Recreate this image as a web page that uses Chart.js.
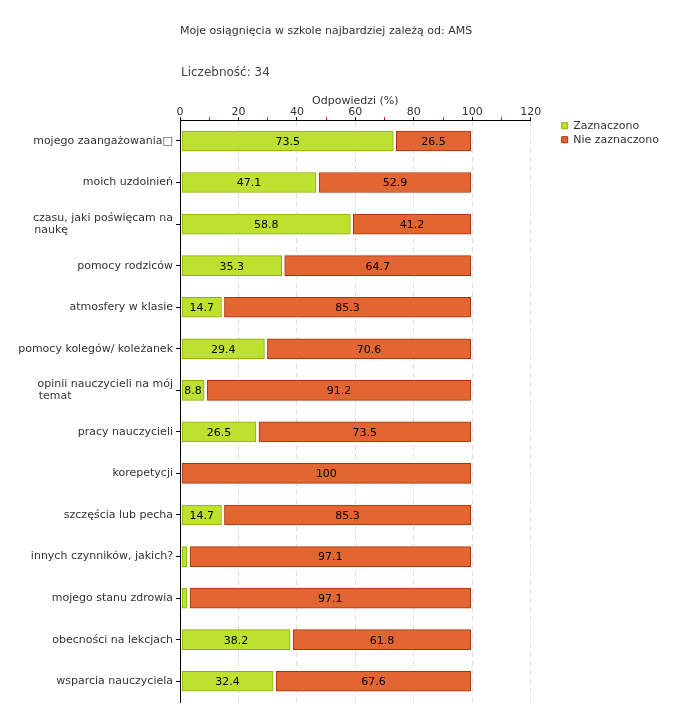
<!DOCTYPE html>
<html>
<head>
<meta charset="utf-8">
<script src="https://cdn.jsdelivr.net/npm/chart.js@4"></script>
<style>
  body { margin: 0; background: #fff; }
  #wrap { width: 680px; height: 720px; }
</style>
</head>
<body>
<div id="wrap"><canvas id="chart"></canvas></div>
<script>
const chartTitle = 'Moje osiągnięcia w szkole najbardziej zależą od: AMS';
const countLabel = 'Liczebność: 34';
const axisTitle = 'Odpowiedzi (%)';

const categories = [
  'mojego zaangażowania\u25A1',
  'moich uzdolnień',
  ['czasu, jaki poświęcam na', 'naukę'],
  'pomocy rodziców',
  'atmosfery w klasie',
  'pomocy kolegów/ koleżanek',
  ['opinii nauczycieli na mój', 'temat'],
  'pracy nauczycieli',
  'korepetycji',
  'szczęścia lub pecha',
  'innych czynników, jakich?',
  'mojego stanu zdrowia',
  'obecności na lekcjach',
  'wsparcia nauczyciela'
];
const zaznaczono    = [73.5, 47.1, 58.8, 35.3, 14.7, 29.4, 8.8, 26.5, 0, 14.7, 2.9, 2.9, 38.2, 32.4];
const nieZaznaczono = [26.5, 52.9, 41.2, 64.7, 85.3, 70.6, 91.2, 73.5, 100, 85.3, 97.1, 97.1, 61.8, 67.6];
const seriesNames = ['Zaznaczono', 'Nie zaznaczono'];

const FONT = 'DejaVu Sans';

// pad short lines of wrapped labels so they line up on the left
const measure = document.createElement('canvas').getContext('2d');
measure.font = '11px "' + FONT + '"';
function padLines(lbl) {
  if (!Array.isArray(lbl)) return lbl;
  const w = Math.max(...lbl.map(s => measure.measureText(s).width));
  return lbl.map(s => {
    let t = s;
    while (measure.measureText(t + ' ').width <= w) t += ' ';
    return t;
  });
}

const titles = {
  id: 'titles',
  afterLayout(chart) {
    // legend sits a bit right of the plot, level with its top
    const lg = chart.legend, area = chart.chartArea;
    const dx = area.right + 28 - lg.left, dy = area.top - 3 - lg.top;
    lg.left += dx; lg.right += dx; lg.top += dy; lg.bottom += dy;
  },
  afterDraw(chart) {
    const c = chart.ctx, left = chart.chartArea.left;
    c.save();
    c.textBaseline = 'middle';
    c.fillStyle = '#333';
    c.font = '11px "' + FONT + '"';
    c.fillText(chartTitle, left, 31);
    c.fillStyle = '#444';
    c.font = '12px "' + FONT + '"';
    c.fillText(countLabel, left + 1, 73);
    c.restore();
  }
};

// small white gap at both ends of every bar segment
const barGap = {
  id: 'barGap',
  beforeDatasetsDraw(chart) {
    chart.data.datasets.forEach((ds, i) => chart.getDatasetMeta(i).data.forEach(el => { el.base += 1.5; el.x -= 1.5; }));
  },
  afterDatasetsDraw(chart) {
    chart.data.datasets.forEach((ds, i) => chart.getDatasetMeta(i).data.forEach(el => { el.base -= 1.5; el.x += 1.5; }));
  }
};

const barLabels = {
  id: 'barLabels',
  afterDatasetsDraw(chart) {
    const c = chart.ctx;
    c.save();
    c.font = '11px "' + FONT + '"';
    c.fillStyle = '#000';
    c.textAlign = 'center';
    c.textBaseline = 'middle';
    chart.data.datasets.forEach((ds, i) => {
      chart.getDatasetMeta(i).data.forEach((el, j) => {
        const v = ds.data[j];
        if (v < 5) return;
        c.fillText(String(v), (el.x + el.base) / 2, el.y + 1);
      });
    });
    c.restore();
  }
};

new Chart(document.getElementById('chart'), {
  type: 'bar',
  data: {
    labels: categories,
    datasets: [{
      label: seriesNames[0],
      data: zaznaczono,
      backgroundColor: ctx => ctx.raw === 0 ? 'transparent' : 'rgb(190,224,46)',
      borderColor: ctx => ctx.raw === 0 ? 'transparent' : 'rgb(140,175,10)',
      borderWidth: 1,
      borderSkipped: false,
      barThickness: 20
    }, {
      label: seriesNames[1],
      data: nieZaznaczono,
      backgroundColor: 'rgb(226,101,50)',
      borderColor: 'rgb(170,50,10)',
      borderWidth: 1,
      borderSkipped: false,
      barThickness: 20
    }]
  },
  options: {
    indexAxis: 'y',
    responsive: true,
    maintainAspectRatio: false,
    animation: false,
    layout: { padding: { top: 96, right: 39, bottom: 18, left: 0 } },
    plugins: {
      tooltip: { enabled: false },
      legend: {
        position: 'right',
        align: 'start',
        labels: {
          boxWidth: 6, boxHeight: 6, padding: 3,
          color: '#333',
          font: { family: FONT, size: 11, lineHeight: 1 }
        }
      }
    },
    scales: {
      x: {
        position: 'top',
        stacked: true,
        min: 0, max: 120,
        ticks: {
          stepSize: 10,
          padding: -2,
          maxRotation: 0,
          autoSkip: false,
          color: '#333',
          font: { family: FONT, size: 11 },
          callback: v => v % 20 === 0 ? v : ''
        },
        grid: {
          tickLength: 3,
          color: ctx => (ctx.tick && ctx.tick.value % 20 === 0 && ctx.tick.value !== 0) ? '#ddd' : 'transparent',
          tickColor: ctx => (ctx.tick && ctx.tick.value % 20 === 0) ? '#000' : '#e00000'
        },
        border: { color: '#000', dash: [5, 4] },
        title: {
          display: true,
          text: axisTitle,
          color: '#333',
          font: { family: FONT, size: 11, lineHeight: 1 },
          padding: { top: 0, bottom: 1 }
        }
      },
      y: {
        stacked: true,
        afterFit(scale) { scale.width = 180; },
        ticks: {
          color: '#333',
          padding: 3,
          autoSkip: false,
          font: { family: FONT, size: 11, lineHeight: 1.1 },
          callback(value) { return padLines(categories[value]); }
        },
        grid: { drawOnChartArea: false, offset: false, tickLength: 4, color: '#000' },
        border: { color: '#000' }
      }
    }
  },
  plugins: [titles, barGap, barLabels]
});
</script>
</body>
</html>
